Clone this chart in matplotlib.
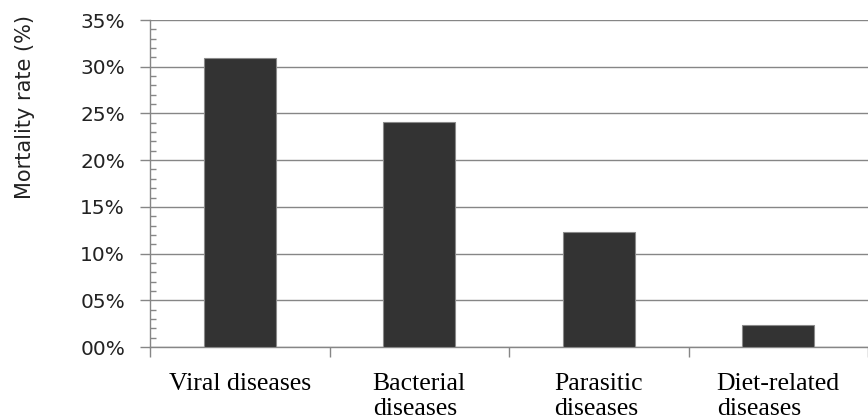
import matplotlib
matplotlib.use("Agg")
import matplotlib.pyplot as plt
from matplotlib.ticker import FixedLocator, MultipleLocator

categories = ["Viral diseases", "Bacterial\ndiseases", "Parasitic\ndiseases", "Diet-related\ndiseases"]
values = [30.9, 24.1, 12.3, 2.4]
ytick_vals = [0, 5, 10, 15, 20, 25, 30, 35]
ytick_labels = ["00%", "05%", "10%", "15%", "20%", "25%", "30%", "35%"]

fig = plt.figure(figsize=(8.68, 4.19), dpi=100)
ax = fig.add_axes([150/868, 1-347/419, 1-150/868, (347-20)/419])

x = list(range(len(categories)))
ax.bar(x, values, width=0.4, color="#333333", edgecolor="#8a8a8a", linewidth=0.8, zorder=3)

ax.set_xlim(-0.5, len(categories) - 0.5)
ax.set_ylim(0, 35)
ax.yaxis.set_major_locator(FixedLocator(ytick_vals))
ax.set_yticklabels(ytick_labels, fontsize=14.5, family="DejaVu Sans", color="#222222")
ax.yaxis.set_minor_locator(MultipleLocator(1))
ax.tick_params(axis="y", which="major", direction="out", length=7, color="#868686", width=1, pad=11)
ax.tick_params(axis="y", which="minor", direction="in", length=4.5, color="#868686", width=1)
ax.grid(axis="y", which="major", color="#868686", linewidth=1, zorder=0)

ax.set_xticks(x)
ax.set_xticklabels(categories, fontsize=18.5, family="Liberation Serif", linespacing=1.15,
                   va="top", multialignment="left")
ax.xaxis.set_minor_locator(FixedLocator([i - 0.5 for i in range(len(categories) + 1)]))
ax.tick_params(axis="x", which="major", length=0, pad=19)
ax.tick_params(axis="x", which="minor", direction="out", length=7, color="#868686", width=1)

for s in ["top", "right"]:
    ax.spines[s].set_visible(False)
for s in ["left", "bottom"]:
    ax.spines[s].set_color("#868686")
    ax.spines[s].set_linewidth(1)

ax.set_ylabel("Mortality rate (%)", fontsize=15, family="DejaVu Sans", color="#222222")
ax.yaxis.set_label_coords(-0.160, 0.734)

fig.savefig("out.png", dpi=100)
